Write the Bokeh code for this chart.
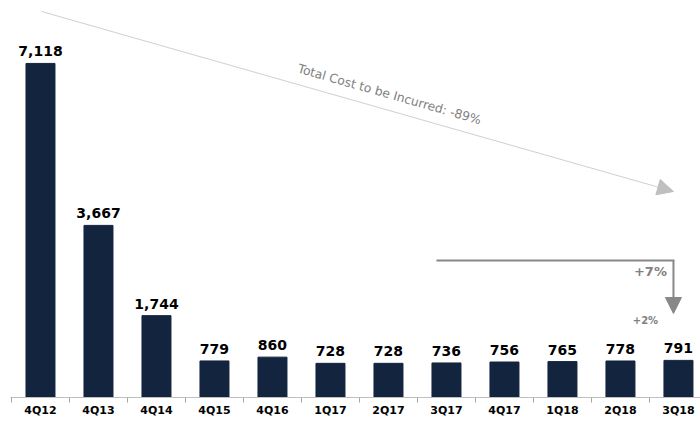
from bokeh.plotting import figure
from bokeh.models import FixedTicker, Arrow, NormalHead, ColumnDataSource
from bokeh.core.properties import value
from bokeh.embed import file_html
from bokeh.resources import INLINE

categories = ["4Q12", "4Q13", "4Q14", "4Q15", "4Q16", "1Q17", "2Q17",
              "3Q17", "4Q17", "1Q18", "2Q18", "3Q18"]
costs = [7118, 3667, 1744, 779, 860, 728, 728, 736, 756, 765, 778, 791]
trend_text = "Total Cost to be Incurred: -89%"
change_big = "+7%"
change_small = "+2%"

FONT = "DejaVu Sans"
BAR = "#13243f"
GRAY = "#808080"

xs = list(range(len(categories)))
labels = [f"{v:,}" for v in costs]
src = ColumnDataSource(dict(x=xs, top=costs, label=labels))

p = figure(frame_width=690, frame_height=397,
           x_range=(-0.517, 11.38), y_range=(0, 8459),
           output_backend="svg", toolbar_location=None,
           y_axis_location=None, min_border=0, min_border_left=10,
           min_border_bottom=26,
           background_fill_color="white", border_fill_color="white")
p.outline_line_color = None
p.xgrid.visible = False
p.ygrid.visible = False

p.vbar(x="x", top="top", width=0.5, bottom=0, source=src,
       fill_color=BAR, line_color=BAR)
p.text(x="x", y="top", text="label", source=src, y_offset=-12,
       text_align="center", text_baseline="alphabetic",
       text_font=value(FONT), text_font_style="bold",
       text_font_size="14px", text_color="black")

ax = p.xaxis[0]
ax.ticker = FixedTicker(ticks=xs, minor_ticks=[i - 0.5 for i in range(len(categories) + 1)])
ax.major_label_overrides = {i: c for i, c in enumerate(categories)}
ax.major_tick_line_color = None
ax.major_tick_out = 0
ax.major_tick_in = 0
ax.minor_tick_line_color = "#a6a6a6"
ax.minor_tick_out = 5
ax.minor_tick_in = 0
ax.axis_line_color = "#bfbfbf"
ax.axis_line_width = 1
ax.major_label_standoff = 1
ax.major_label_text_font = FONT
ax.major_label_text_font_style = "bold"
ax.major_label_text_font_size = "11px"
ax.major_label_text_color = "black"

# helpers: screen-ish placement in data units
def dx(px):
    return (px - 40) / 58.0

def dy(py):
    return (397 - py) / 0.04693

# long diagonal trend arrow
p.add_layout(Arrow(x_start=dx(41), y_start=dy(11), x_end=dx(673), y_end=dy(191),
                   line_color="#cfcfcf", line_width=1,
                   end=NormalHead(size=16, fill_color="#bfbfbf", line_color="#bfbfbf")))
p.text(x=[dx(389)], y=[dy(94)], text=[trend_text], angle=-15.9, angle_units="deg",
       text_align="center", text_baseline="middle",
       text_font=value(FONT), text_font_size="12.3px", text_color=GRAY)

# elbow arrow
p.segment(x0=[dx(436)], y0=[dy(260)], x1=[dx(674)], y1=[dy(260)],
          line_color="#888888", line_width=2)
p.add_layout(Arrow(x_start=dx(673), y_start=dy(260), x_end=dx(673), y_end=dy(313),
                   line_color="#888888", line_width=2,
                   end=NormalHead(size=16, fill_color="#888888", line_color="#888888")))
p.text(x=[dx(650)], y=[dy(271)], text=[change_big], text_align="center",
       text_baseline="middle", text_font=value(FONT), text_font_style="bold",
       text_font_size="13px", text_color=GRAY)
p.text(x=[dx(645)], y=[dy(320)], text=[change_small], text_align="center",
       text_baseline="middle", text_font=value(FONT), text_font_style="bold",
       text_font_size="10px", text_color=GRAY)

open("out.html", "w").write(file_html(p, INLINE))
